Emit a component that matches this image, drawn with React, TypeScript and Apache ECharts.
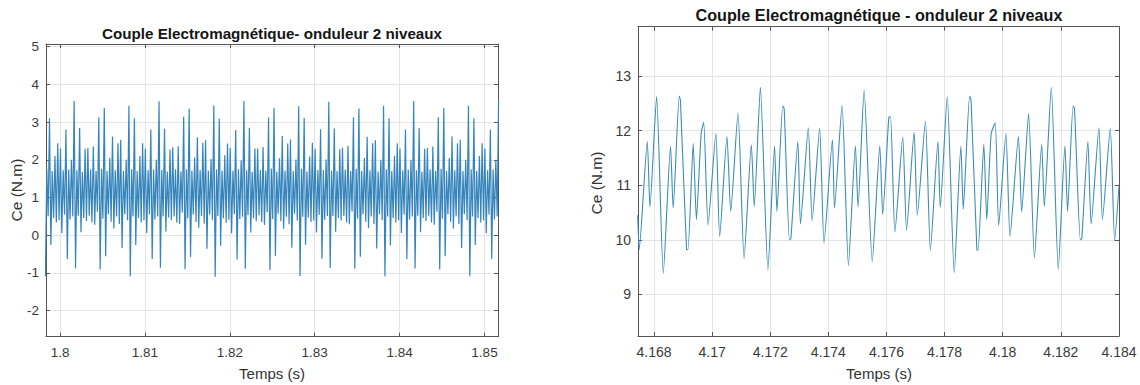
import React, { useEffect, useRef } from 'react';
import * as echarts from 'echarts';

const LEFT_TITLE = 'Couple Electromagnétique- onduleur 2 niveaux';
const RIGHT_TITLE = 'Couple Electromagnétique - onduleur 2 niveaux';
const X_NAME = 'Temps (s)';
const Y_NAME = 'Ce (N.m)';

const LEFT_X_RANGE = [1.79834, 1.85159];
const LEFT_Y_RANGE = [-2.69, 5.07];
const LEFT_X_STEP = 0.01;
const LEFT_Y_STEP = 1;

const RIGHT_X_RANGE = [4.16745, 4.184];
const RIGHT_Y_RANGE = [8.24, 13.9];
const RIGHT_X_STEP = 0.002;
const RIGHT_Y_STEP = 1;

// left chart: alternating trough / peak values of the torque ripple, sampled at half-periods
const LEFT_T0 = 1.79827;
const LEFT_HALF_STEP = 0.00016129;
const LEFT_VALUES = [
  -1.09,
  1.75, 0.50, 3.10, -0.26, 1.70, 0.46, 2.10, 0.34, 2.44, 0.40, 2.30, 0.06, 1.72, 0.55, 2.80, -0.63, 1.74, 0.42, 2.00, 0.50,
  // cycle 1
  3.56, -0.88, 1.72, 0.52, 2.84, 0.08, 1.68, 0.46, 2.29, 0.38, 2.31, 0.52, 1.74, 0.34, 2.35, 0.28, 1.70, 0.62, 3.13, -0.91,
  1.76, 0.44, 3.37, -0.56, 1.70, 0.56, 2.05, 0.36, 2.62, 0.18, 1.72, 0.50, 2.44, 0.30, 2.53, -0.34, 1.70, 0.56, 2.00, 0.40,
  3.43, -1.09, 1.75, 0.50, 3.10, -0.26, 1.70, 0.46, 2.10, 0.34, 2.44, 0.40, 2.30, 0.06, 1.72, 0.55, 2.80, -0.63, 1.74, 0.42,
  2.00, 0.50,
  // cycle 2
  3.55, -0.86, 1.73, 0.50, 2.82, 0.10, 1.69, 0.47, 2.27, 0.40, 2.33, 0.50, 1.75, 0.33, 2.36, 0.30, 1.69, 0.60, 3.14, -0.90,
  1.75, 0.45, 3.35, -0.58, 1.71, 0.55, 2.06, 0.35, 2.60, 0.20, 1.73, 0.51, 2.45, 0.31, 2.52, -0.36, 1.71, 0.55, 2.02, 0.41,
  3.44, -1.10, 1.74, 0.51, 3.09, -0.28, 1.71, 0.45, 2.12, 0.33, 2.43, 0.41, 2.31, 0.05, 1.71, 0.56, 2.79, -0.64, 1.75, 0.43,
  1.99, 0.49,
  // cycle 3
  3.56, -0.89, 1.72, 0.53, 2.85, 0.07, 1.68, 0.45, 2.30, 0.37, 2.30, 0.53, 1.73, 0.35, 2.34, 0.27, 1.71, 0.61, 3.12, -0.92,
  1.77, 0.43, 3.38, -0.55, 1.69, 0.57, 2.04, 0.37, 2.63, 0.17, 1.71, 0.49, 2.43, 0.29, 2.54, -0.33, 1.70, 0.57, 2.01, 0.39,
  3.42, -1.08, 1.76, 0.49, 3.11, -0.25, 1.69, 0.47, 2.09, 0.35, 2.45, 0.39, 2.29, 0.07, 1.73, 0.54, 2.81, -0.62, 1.73, 0.41,
  2.01, 0.51,
  // cycle 4
  3.54, -0.87, 1.71, 0.51, 2.83, 0.09, 1.70, 0.46, 2.28, 0.39, 2.32, 0.51, 1.74, 0.34, 2.37, 0.29, 1.70, 0.63, 3.13, -0.89,
  1.76, 0.44, 3.36, -0.57, 1.70, 0.56, 2.05, 0.36, 2.61, 0.19, 1.72, 0.50, 2.44, 0.30, 2.52, -0.35, 1.69, 0.56, 2.00, 0.40,
  3.43, -1.09, 1.75, 0.50, 3.10, -0.27, 1.70, 0.46, 2.11, 0.34, 2.44, 0.40, 2.30, 0.06, 1.72, 0.55, 2.80, -0.63, 1.74, 0.42,
  2.00, 0.50,
  // cycle 5
  3.56, -0.88, 1.72, 0.52, 2.84, 0.08, 1.68, 0.46, 2.29, 0.38, 2.31, 0.52, 1.74, 0.34, 2.35, 0.28, 1.70, 0.62, 3.13, -0.91,
  1.76, 0.44, 3.37, -0.56, 1.70, 0.56, 2.05, 0.36, 2.62, 0.18, 1.72, 0.50, 2.44, 0.30, 2.53, -0.34, 1.70, 0.56, 2.00, 0.40,
  3.43, -1.09, 1.75, 0.50, 3.10, -0.26, 1.70, 0.46, 2.10, 0.34, 2.44, 0.40, 2.30, 0.06, 1.72, 0.55, 2.80, -0.63, 1.74, 0.42,
  2.00, 0.50,
  3.56,
];

// right chart: [time (s), torque (N.m)] turning points
const RIGHT_POINTS = [
  [4.16744, 10.45], [4.16749, 9.82], [4.16777, 11.80], [4.16786, 10.60], [4.16809, 12.62],
  [4.16832, 9.39], [4.16857, 11.71], [4.16866, 10.58], [4.16887, 12.63], [4.16891, 12.55],
  [4.16912, 9.83], [4.16917, 9.82], [4.16935, 11.76], [4.16946, 10.37], [4.16962, 11.93],
  [4.16971, 12.15], [4.16986, 10.27], [4.17013, 11.95], [4.17026, 10.06], [4.17051, 11.89],
  [4.17064, 10.52], [4.17089, 12.32], [4.17110, 9.66], [4.17135, 11.74], [4.17145, 10.61],
  [4.17166, 12.79], [4.17192, 9.45], [4.17215, 11.71], [4.17223, 10.52], [4.17243, 12.45],
  [4.17248, 12.40], [4.17266, 10.00], [4.17271, 10.02], [4.17295, 11.80], [4.17304, 10.29],
  [4.17331, 12.05], [4.17344, 10.35], [4.17370, 12.04], [4.17385, 9.94], [4.17414, 11.83],
  [4.17421, 10.58], [4.17447, 12.46], [4.17469, 9.53], [4.17493, 11.72], [4.17502, 10.60],
  [4.17523, 12.74], [4.17551, 9.60], [4.17577, 11.72], [4.17587, 10.46], [4.17608, 12.24],
  [4.17614, 12.25], [4.17629, 10.14], [4.17656, 11.88], [4.17669, 10.17], [4.17695, 11.97],
  [4.17706, 10.45], [4.17734, 12.17], [4.17751, 9.81], [4.17777, 11.80], [4.17785, 10.59],
  [4.17809, 12.62], [4.17833, 9.40], [4.17856, 11.71], [4.17864, 10.56], [4.17886, 12.63],
  [4.17891, 12.55], [4.17911, 9.82], [4.17915, 9.81], [4.17935, 11.75], [4.17945, 10.37],
  [4.17960, 11.94], [4.17974, 12.14], [4.17986, 10.26], [4.18011, 11.95], [4.18025, 10.06],
  [4.18054, 11.89], [4.18065, 10.51], [4.18089, 12.31], [4.18109, 9.67], [4.18134, 11.75],
  [4.18143, 10.61], [4.18167, 12.79], [4.18191, 9.46], [4.18214, 11.72], [4.18223, 10.52],
  [4.18242, 12.45], [4.18247, 12.40], [4.18267, 10.00], [4.18272, 10.02], [4.18293, 11.80],
  [4.18304, 10.29], [4.18331, 12.05], [4.18343, 10.37], [4.18370, 12.04], [4.18385, 9.98],
  [4.18400, 10.98],
];

const FONT = '"Liberation Sans", Arial, Helvetica, sans-serif';
const AXIS_COLOR = '#555555';
const GRID_COLOR = '#e4e4e4';
const LABEL_COLOR = '#3a3a3a';

function stepFormatter(step: number) {
  return (v: number) => {
    const r = v / step;
    if (Math.abs(r - Math.round(r)) > 1e-6) return '';
    return String(parseFloat(v.toFixed(4)));
  };
}

function xAxes(grid: number, range: number[], step: number, split: number, fontSize: number) {
  const common = {
    type: 'value',
    gridIndex: grid,
    min: range[0],
    max: range[1],
    splitNumber: split,
    minInterval: step,
    maxInterval: step,
    axisLine: { show: true, onZero: false, lineStyle: { color: AXIS_COLOR, width: 1 } },
    axisTick: { show: true, inside: true, length: 4, lineStyle: { color: AXIS_COLOR, width: 1 } },
  };
  return [
    {
      ...common,
      position: 'bottom',
      axisLabel: {
        show: true, formatter: stepFormatter(step), color: LABEL_COLOR, fontSize,
        fontFamily: FONT, margin: 9, hideOverlap: false,
      },
      splitLine: { show: true, lineStyle: { color: GRID_COLOR, width: 1 } },
    },
    {
      ...common,
      position: 'top',
      axisLabel: { show: false },
      splitLine: { show: false },
    },
  ];
}

function yAxes(grid: number, range: number[], step: number, split: number, fontSize: number) {
  const common = {
    type: 'value',
    gridIndex: grid,
    min: range[0],
    max: range[1],
    splitNumber: split,
    minInterval: step,
    maxInterval: step,
    axisLine: { show: true, onZero: false, lineStyle: { color: AXIS_COLOR, width: 1 } },
    axisTick: { show: true, inside: true, length: 4, lineStyle: { color: AXIS_COLOR, width: 1 } },
  };
  return [
    {
      ...common,
      position: 'left',
      axisLabel: {
        show: true, formatter: stepFormatter(step), color: LABEL_COLOR, fontSize,
        fontFamily: FONT, margin: 7,
      },
      splitLine: { show: true, lineStyle: { color: GRID_COLOR, width: 1 } },
    },
    {
      ...common,
      position: 'right',
      axisLabel: { show: false },
      splitLine: { show: false },
    },
  ];
}

function text(x: number, y: number, t: string, font: string, fill: string, rotation = 0) {
  return {
    type: 'text',
    x,
    y,
    rotation,
    silent: true,
    style: {
      text: t,
      font,
      fill,
      align: 'center',
      verticalAlign: 'middle',
      textAlign: 'center',
      textVerticalAlign: 'middle',
    },
  };
}

export default function App() {
  const ref = useRef<HTMLDivElement>(null);

  useEffect(() => {
    document.body.style.margin = '0';
    if (!ref.current) return;
    const chart = echarts.init(ref.current, null, { renderer: 'svg' });

    const leftData = LEFT_VALUES.map((v, j) => [LEFT_T0 + j * LEFT_HALF_STEP, v]);

    chart.setOption({
      animation: false,
      backgroundColor: '#ffffff',
      grid: [
        { left: 46, top: 44, width: 452, height: 292.7, containLabel: false },
        { left: 638, top: 26.7, width: 481, height: 309.3, containLabel: false },
      ],
      xAxis: [
        ...xAxes(0, LEFT_X_RANGE, LEFT_X_STEP, 5, 13.5),
        ...xAxes(1, RIGHT_X_RANGE, RIGHT_X_STEP, 8, 14),
      ],
      yAxis: [
        ...yAxes(0, LEFT_Y_RANGE, LEFT_Y_STEP, 8, 13.5),
        ...yAxes(1, RIGHT_Y_RANGE, RIGHT_Y_STEP, 6, 14),
      ],
      series: [
        {
          type: 'line',
          xAxisIndex: 0,
          yAxisIndex: 0,
          data: leftData,
          showSymbol: false,
          symbol: 'none',
          clip: true,
          lineStyle: { color: '#3584bb', width: 1.2 },
        },
        {
          type: 'line',
          xAxisIndex: 2,
          yAxisIndex: 2,
          data: RIGHT_POINTS,
          showSymbol: false,
          symbol: 'none',
          clip: true,
          smooth: 0.2,
          lineStyle: { color: '#3b8db4', width: 1.1 },
        },
      ],
      graphic: [
        text(272, 33, LEFT_TITLE, `bold 15.2px ${FONT}`, '#151515'),
        text(879, 15, RIGHT_TITLE, `bold 16.2px ${FONT}`, '#151515'),
        text(272, 373, X_NAME, `15px ${FONT}`, '#333333'),
        text(879, 373, X_NAME, `15px ${FONT}`, '#333333'),
        text(16, 190, Y_NAME, `15.5px ${FONT}`, '#333333', Math.PI / 2),
        text(596, 183, Y_NAME, `15.5px ${FONT}`, '#333333', Math.PI / 2),
      ],
    });

    return () => chart.dispose();
  }, []);

  return <div ref={ref} style={{ width: 1140, height: 385 }} />;
}
